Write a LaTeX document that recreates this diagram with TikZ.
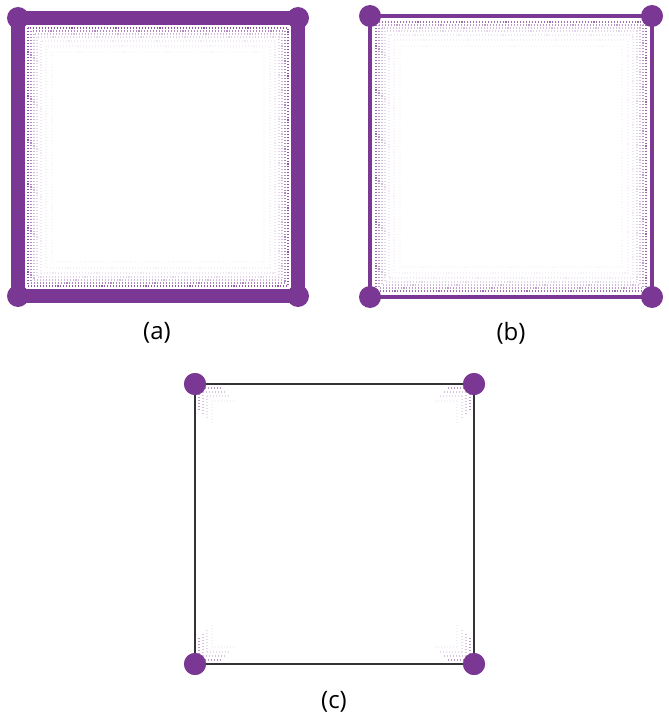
\documentclass[tikz,border=0pt]{standalone}
\usepackage{fontspec}
\setmainfont{Open Sans}
\definecolor{vpurple}{RGB}{122,56,148}
\definecolor{edgegray}{RGB}{50,50,55}
\tikzset{
  px/.style={x=0.75pt,y=-0.75pt},
  corner/.style={circle,fill=vpurple,inner sep=0pt,minimum size=16.5pt},
  thickbar/.style={draw=vpurple,line width=10pt},
  thinbar/.style={draw=vpurple,line width=2.4pt},
  graybar/.style={draw=edgegray,line width=1.5pt},
  field/.style={draw=vpurple,line width=0.9pt,dash pattern=on 0.8pt off 1.4pt},
  lbl/.style={font=\fontsize{18}{20}\selectfont,inner sep=0pt}
}
\begin{document}
\begin{tikzpicture}[px]
\useasboundingbox (0,0) rectangle (668,717);
% ---------- (a)
\foreach \d/\o in {10/0.85,13/0.6,16/0.35,19/0.2,23/0.12,28/0.07,34/0.04}{
  \draw[field,opacity=\o] (18+\d,18+\d) rectangle (298-\d,296-\d);
}
\node[corner] (a1) at (18,18) {};
\node[corner] (a2) at (298,18) {};
\node[corner] (a3) at (298,296) {};
\node[corner] (a4) at (18,296) {};
\draw[thickbar] (a1.center) -- (a2.center) -- (a3.center) -- (a4.center) -- cycle;
\node[lbl] (la) at (157,333) {(a)};
% ---------- (b)
\foreach \d/\o in {6/0.75,9/0.5,12/0.32,15/0.2,19/0.12,24/0.07,30/0.04}{
  \draw[field,opacity=\o] (370+\d,16+\d) rectangle (652-\d,297-\d);
}
\node[corner] (b1) at (370,16) {};
\node[corner] (b2) at (652,16) {};
\node[corner] (b3) at (652,297) {};
\node[corner] (b4) at (370,297) {};
\draw[thinbar] (b1.center) -- (b2.center) -- (b3.center) -- (b4.center) -- cycle;
% tapering near corners
\fill[vpurple] (b1.center) -- ++(40,-1.8) -- ++(0,3.6) -- cycle;
\fill[vpurple] (b1.center) -- ++(-1.8,40) -- ++(3.6,0) -- cycle;
\fill[vpurple] (b2.center) -- ++(-40,-1.8) -- ++(0,3.6) -- cycle;
\fill[vpurple] (b2.center) -- ++(-1.8,40) -- ++(3.6,0) -- cycle;
\fill[vpurple] (b3.center) -- ++(-40,-1.8) -- ++(0,3.6) -- cycle;
\fill[vpurple] (b3.center) -- ++(-1.8,-40) -- ++(3.6,0) -- cycle;
\fill[vpurple] (b4.center) -- ++(40,-1.8) -- ++(0,3.6) -- cycle;
\fill[vpurple] (b4.center) -- ++(-1.8,-40) -- ++(3.6,0) -- cycle;
\node[lbl] (lb) at (511,333) {(b)};
% ---------- (c)
\foreach \d/\o in {4/0.5,8/0.3,12/0.18,17/0.08}{
  \draw[field,opacity=\o] (195+\d,384+\d) -- ++(0,22) (195+\d,384+\d) -- ++(22,0);
  \draw[field,opacity=\o] (474-\d,384+\d) -- ++(0,22) (474-\d,384+\d) -- ++(-22,0);
  \draw[field,opacity=\o] (474-\d,664-\d) -- ++(0,-22) (474-\d,664-\d) -- ++(-22,0);
  \draw[field,opacity=\o] (195+\d,664-\d) -- ++(0,-22) (195+\d,664-\d) -- ++(22,0);
}
\node[corner] (c1) at (195,384) {};
\node[corner] (c2) at (474,384) {};
\node[corner] (c3) at (474,664) {};
\node[corner] (c4) at (195,664) {};
\draw[graybar] (c1.center) -- (c2.center) -- (c3.center) -- (c4.center) -- cycle;
\foreach \n in {c1,c2,c3,c4}{\node[corner] at (\n) {};}
\node[lbl] (lc) at (334,702) {(c)};
\end{tikzpicture}
\end{document}
